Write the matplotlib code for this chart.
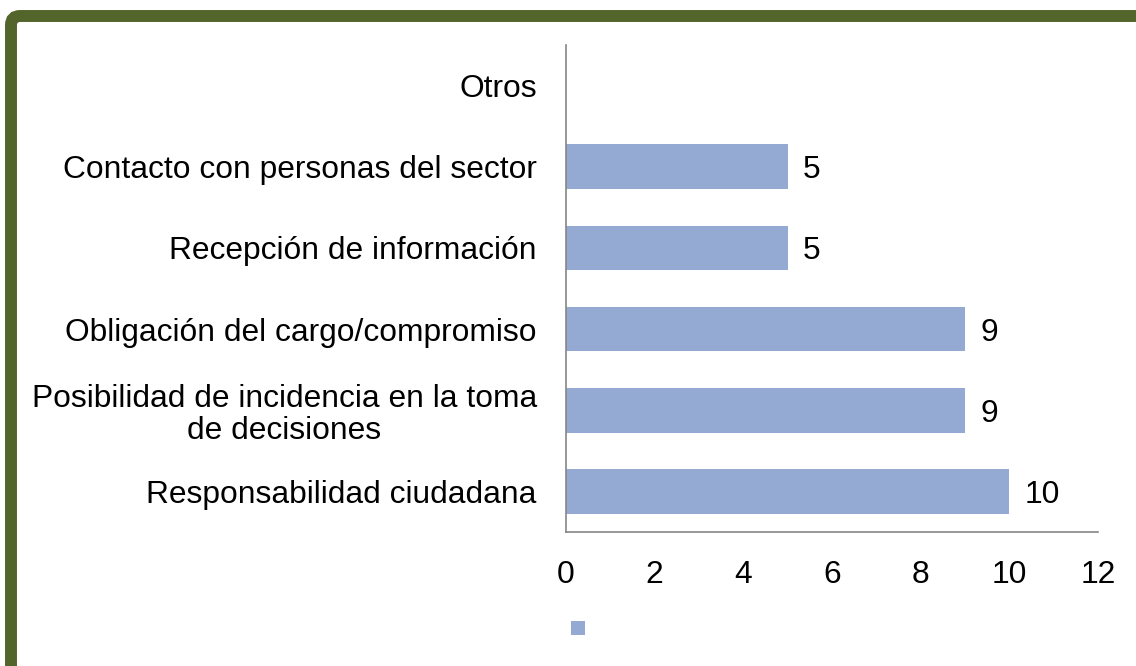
import matplotlib
matplotlib.use("Agg")
import matplotlib.pyplot as plt
from matplotlib.patches import FancyBboxPatch, Patch

plt.rcParams['font.family'] = ['Liberation Sans', 'DejaVu Sans']

categorias = [
    "Responsabilidad ciudadana",
    "Posibilidad de incidencia en la toma\nde decisiones",
    "Obligación del cargo/compromiso",
    "Recepción de información",
    "Contacto con personas del sector",
    "Otros",
]
valores = [10, 9, 9, 5, 5, 0]
ticks_x = [0, 2, 4, 6, 8, 10, 12]

color_barra = "#95AAD2"
color_marco = "#53652B"
color_eje = "#868686"
fs = 22.9

W, H = 1136, 666
fig = plt.figure(figsize=(W / 100, H / 100), dpi=100)

# marco verde con esquina redondeada arriba a la izquierda
marco = FancyBboxPatch((11 / W, -0.1), 1.2, (H - 16) / H + 0.1,
                       boxstyle="round,pad=0,rounding_size=0.008",
                       mutation_aspect=W / H,
                       transform=fig.transFigure, facecolor="none",
                       edgecolor=color_marco, linewidth=8.6)
fig.patches.append(marco)

ax = fig.add_axes([566 / W, 1 - 532 / H, (1098 - 566) / W, (532 - 45) / H])
pos = list(range(len(categorias)))
barras = ax.barh(pos, valores, height=0.55, color=color_barra)

for b, v in zip(barras, valores):
    if v > 0:
        ax.annotate(str(v), (b.get_width(), b.get_y() + b.get_height() / 2),
                    xytext=(11, 0), textcoords="offset points",
                    ha="left", va="center_baseline", fontsize=fs)

ax.set_xlim(0, 12)
ax.set_ylim(-0.5, len(categorias) - 0.5)
ax.set_xticks(ticks_x)
ax.set_yticks(pos)
ax.set_yticklabels(categorias, multialignment="center", linespacing=1.1)
ax.tick_params(axis="both", length=0, labelsize=fs)
ax.tick_params(axis="x", pad=20)
ax.tick_params(axis="y", pad=21)

for s in ["top", "right"]:
    ax.spines[s].set_visible(False)
for s in ["left", "bottom"]:
    ax.spines[s].set_color(color_eje)
    ax.spines[s].set_linewidth(1.2)

fig.legend(handles=[Patch(facecolor=color_barra)], labels=[""],
           loc="center left", bbox_to_anchor=(571 / W, 1 - 630 / H),
           frameon=False, fontsize=15, handlelength=0.65, handleheight=0.65,
           handletextpad=0, borderpad=0, borderaxespad=0)

fig.savefig("out.png", dpi=100)
